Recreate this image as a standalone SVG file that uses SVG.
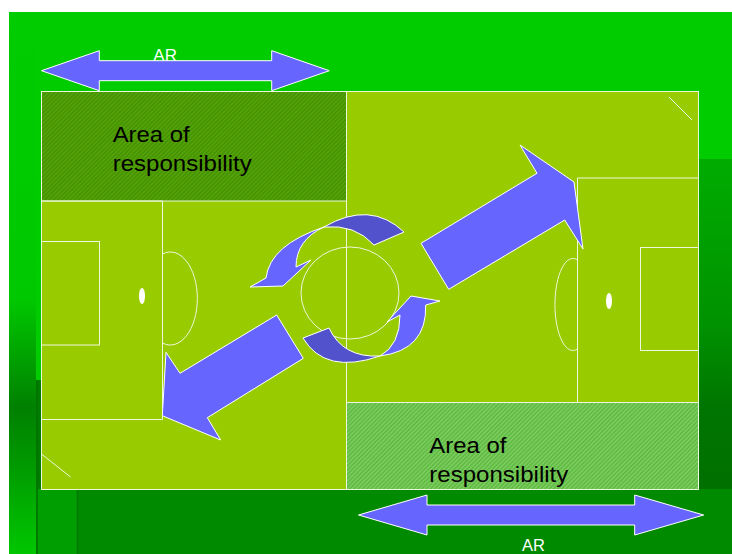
<svg xmlns="http://www.w3.org/2000/svg" width="732" height="554" viewBox="0 0 732 554">
  <defs>
    <linearGradient id="leftStrip" gradientUnits="userSpaceOnUse" x1="0" y1="12" x2="0" y2="554">
      <stop offset="0" stop-color="#00CC00"/>
      <stop offset="0.53" stop-color="#00C800"/>
      <stop offset="0.73" stop-color="#008000"/>
      <stop offset="0.83" stop-color="#009800"/>
      <stop offset="1" stop-color="#00C600"/>
    </linearGradient>
    <linearGradient id="rightStrip" gradientUnits="userSpaceOnUse" x1="0" y1="159" x2="0" y2="490">
      <stop offset="0" stop-color="#00AC00"/>
      <stop offset="0.5" stop-color="#009200"/>
      <stop offset="0.75" stop-color="#007500"/>
      <stop offset="1" stop-color="#007000"/>
    </linearGradient>
    <pattern id="hatchDark" width="3" height="3" patternUnits="userSpaceOnUse" patternTransform="rotate(45)">
      <rect width="3" height="3" fill="#469500"/>
      <rect width="1" height="3" fill="#5AA60F"/>
    </pattern>
    <pattern id="hatchLight" width="3" height="3" patternUnits="userSpaceOnUse" patternTransform="rotate(45)">
      <rect width="3" height="3" fill="#62BD44"/>
      <rect width="1" height="3" fill="#86D06A"/>
    </pattern>
  </defs>
  <style>
    .line{fill:none;stroke:#EEF7DC;stroke-width:1}
    .spot{fill:#FFFFFF}
    .arrow{fill:#6666FF;stroke:#FFFFFF;stroke-width:1;stroke-linejoin:miter}
    .arrow-back{fill:#5252CC;stroke:#FFFFFF;stroke-width:1}
    .label{font-family:"Liberation Sans",Arial,sans-serif;fill:#000000;font-size:22.5px}
    .ar{font-family:"Liberation Sans",Arial,sans-serif;fill:#FFFFFF;font-size:17px}
  </style>

  <!-- slide background -->
  <g id="background">
    <rect x="0" y="0" width="732" height="554" fill="#FFFFFF"/>
    <rect x="9" y="12" width="723" height="542" fill="#00CC00"/>
    <rect x="9" y="12" width="27" height="542" fill="url(#leftStrip)"/>
    <rect x="699" y="159" width="33" height="331" fill="url(#rightStrip)"/>
    <rect x="36" y="380" width="5" height="110" fill="#007D00"/>
    <rect x="36" y="489" width="696" height="65" fill="#008A00"/>
    <rect x="38" y="489" width="39" height="65" fill="#009E00"/>
    <line x1="37" y1="380" x2="37" y2="554" stroke="#007400" stroke-width="1.5"/>
    <line x1="77.5" y1="489" x2="77.5" y2="554" stroke="#007A00" stroke-width="1.5"/>
  </g>

  <!-- pitch -->
  <g id="pitch">
    <rect x="41.5" y="91.5" width="657" height="398" fill="#99CC00"/>
    <rect id="zone-top-fill" x="41.5" y="91.5" width="305" height="109.5" fill="url(#hatchDark)"/>
    <rect id="zone-bottom-fill" x="346.5" y="402.5" width="352" height="87" fill="url(#hatchLight)"/>
    <rect class="line" x="41.5" y="91.5" width="657" height="398"/>
    <line class="line" x1="346.5" y1="91" x2="346.5" y2="489"/>
    <line class="line" x1="41" y1="201" x2="346.5" y2="201"/>
    <line class="line" x1="346.5" y1="402.5" x2="698" y2="402.5"/>
    <!-- left end -->
    <polyline class="line" points="41,201 162.5,201 162.5,419.5 41,419.5"/>
    <rect class="line" x="41.5" y="241.5" width="58" height="103.5"/>
    <ellipse class="spot" cx="142" cy="296" rx="3" ry="8"/>
    <path class="line" d="M162.5,254 A27,46.5 0 1 1 162.5,343"/>
    <!-- right end -->
    <polyline class="line" points="698,178 577.5,178 577.5,402.5"/>
    <rect class="line" x="640.5" y="247.5" width="58" height="103"/>
    <ellipse class="spot" cx="609" cy="301" rx="3" ry="8"/>
    <path class="line" d="M577.5,260 A18,46 0 1 0 577.5,349"/>
    <!-- centre circle -->
    <ellipse class="line" cx="350" cy="293" rx="49" ry="46"/>
    <!-- corner marks -->
    <line class="line" x1="669" y1="97" x2="692" y2="120"/>
    <line class="line" x1="41.5" y1="454" x2="70.5" y2="477"/>
  </g>

  <!-- zone labels -->
  <g id="zone-top">
    <text class="label" x="112.7" y="142" textLength="77" lengthAdjust="spacingAndGlyphs">Area of</text>
    <text class="label" x="112.7" y="171" textLength="139" lengthAdjust="spacingAndGlyphs">responsibility</text>
  </g>
  <g id="zone-bottom">
    <text class="label" x="429.3" y="452.5" textLength="77" lengthAdjust="spacingAndGlyphs">Area of</text>
    <text class="label" x="429.3" y="482" textLength="139" lengthAdjust="spacingAndGlyphs">responsibility</text>
  </g>

  <!-- movement arrows -->
  <g id="connectors">
    <path id="run-forward" class="arrow" d="M421,243.3 L537,173.3 L520,145 L574,182 L583,249 L564.7,220 L448.7,289.3 Z"/>
    <path id="run-back" class="arrow" d="M276.7,315 L180,373.3 L166,352.3 L162.3,415.7 L220.7,440 L207.3,417.7 L303.3,358.3 Z"/>
    <g id="rotate-top">
      <path class="arrow-back" d="M324,227 Q370,200 404,232 L374,245 Q355,224 324,227 Z"/>
      <path class="arrow" d="M324,227 Q270,245 266,278 L250,287 L283,286 L311,260 L296,267 Q296,240 324,227 Z"/>
    </g>
    <g id="rotate-bottom">
      <path class="arrow-back" d="M303,338 L329,328 Q343,358 380,356 Q325,375 303,338 Z"/>
      <path class="arrow" d="M380,356 Q427,350 425.7,305 L440,301 L411,296 L387,322 L400,315 Q400,345 380,356 Z"/>
    </g>
  </g>

  <!-- width of each zone -->
  <g id="ar-top">
    <path class="arrow" d="M41.5,70.7 L99.3,50.7 L99.3,60.7 L271.7,60.7 L271.7,50.7 L329.3,70.7 L271.7,90.7 L271.7,80.7 L99.3,80.7 L99.3,90.7 Z"/>
    <text class="ar" x="153.3" y="60.5">AR</text>
  </g>
  <g id="ar-bottom">
    <path class="arrow" d="M358.5,515 L427,495 L427,505 L634.7,505 L634.7,495 L703.7,515 L634.7,535 L634.7,525 L427,525 L427,535 Z"/>
    <text class="ar" x="522" y="550.5" style="font-size:16.5px">AR</text>
  </g>
</svg>
